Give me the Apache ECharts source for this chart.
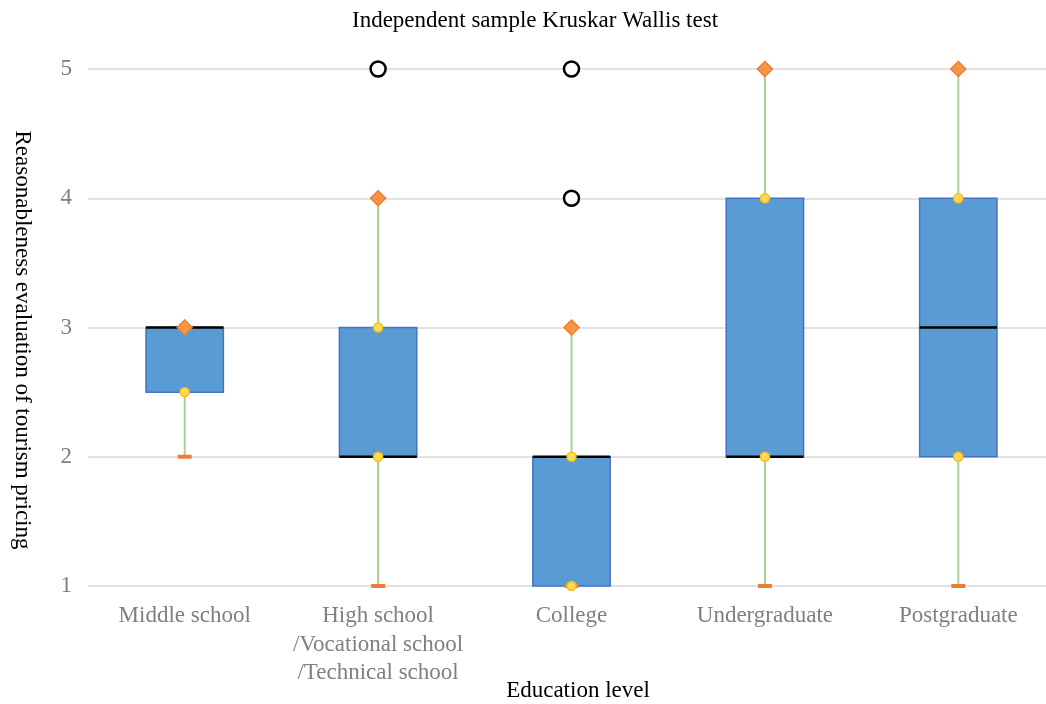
<!DOCTYPE html>
<html>
<head>
<meta charset="utf-8">
<script src="https://cdn.jsdelivr.net/npm/echarts@6/dist/echarts.min.js"></script>
<style>
html,body{margin:0;padding:0;background:#fff;}
#chart{width:1046px;height:704px;}
</style>
</head>
<body>
<div id="chart"></div>
<script>
const categories = ['Middle school', 'High school\n/Vocational school\n/Technical school', 'College', 'Undergraduate', 'Postgraduate'];
const minVals = [2, 1, 1, 1, 1];
const q1Vals = [2.5, 2, 1, 2, 2];
const medianVals = [3, 2, 2, 2, 3];
const q3Vals = [3, 3, 2, 4, 4];
const maxVals = [3, 4, 3, 5, 5];
const outliers = [[1, 5], [2, 4], [2, 5]];
const yTicks = [1, 2, 3, 4, 5];

const FONT = "'Times New Roman', 'Liberation Serif', serif";
const FS = 23;
const boxData = categories.map((c, i) => [i, minVals[i], q1Vals[i], medianVals[i], q3Vals[i], maxVals[i]]);

const chart = echarts.init(document.getElementById('chart'), null, {renderer: 'canvas'});
chart.setOption({
  animation: false,
  backgroundColor: '#fff',
  title: {
    text: 'Independent sample Kruskar Wallis test',
    left: 530, top: 4, textAlign: 'center',
    textStyle: {fontFamily: FONT, fontSize: FS, fontWeight: 'normal', color: '#000'}
  },
  graphic: [
    {type: 'text', x: 22, y: 340, rotation: -Math.PI / 2,
     style: {text: 'Reasonableness evaluation of tourism pricing', font: FS + 'px ' + FONT,
       fill: '#000', align: 'center', verticalAlign: 'middle'}},
    {type: 'text', x: 578, y: 691,
     style: {text: 'Education level', font: FS + 'px ' + FONT,
       fill: '#000', align: 'center', verticalAlign: 'middle'}}
  ],
  grid: {left: 88, top: 69, width: 967, bottom: 118, containLabel: false, outerBoundsMode: 'none'},
  xAxis: {
    type: 'category',
    data: categories,
    axisLine: {show: false},
    axisTick: {show: false},
    axisLabel: {fontFamily: FONT, fontSize: FS, color: '#7f7f7f', lineHeight: 28.5, margin: 16, interval: 0}
  },
  yAxis: {
    type: 'value',
    min: 1, max: 5, interval: 1,
    axisLine: {show: false},
    axisTick: {show: false},
    axisLabel: {fontFamily: FONT, fontSize: FS, color: '#7f7f7f', margin: 16,
      formatter: v => yTicks.includes(v) ? String(v) : ''},
    splitLine: {lineStyle: {color: '#d9d9d9', width: 1.5}}
  },
  series: [
    {
      type: 'custom',
      z: 2,
      data: boxData,
      encode: {x: 0, y: [1, 2, 3, 4, 5]},
      renderItem: function (params, api) {
        const i = api.value(0);
        const pMin = api.coord([i, api.value(1)]);
        const pQ1 = api.coord([i, api.value(2)]);
        const pMed = api.coord([i, api.value(3)]);
        const pQ3 = api.coord([i, api.value(4)]);
        const pMax = api.coord([i, api.value(5)]);
        const band = api.size([1, 0])[0];
        const w = band * 0.4;
        const x = pQ1[0];
        return {
          type: 'group',
          children: [
            {type: 'line', shape: {x1: x, y1: pMin[1], x2: x, y2: pMax[1]},
             style: {stroke: '#a9d18e', lineWidth: 2}},
            {type: 'rect', shape: {x: x - w / 2, y: pQ3[1], width: w, height: pQ1[1] - pQ3[1]},
             style: {fill: '#5b9bd5', stroke: '#4472c4', lineWidth: 1.5}},
            {type: 'line', shape: {x1: x - w / 2, y1: pMed[1], x2: x + w / 2, y2: pMed[1]},
             style: {stroke: '#000', lineWidth: 2.5}}
          ]
        };
      }
    },
    {
      type: 'scatter', z: 3,
      symbol: 'rect', symbolSize: [14, 4],
      itemStyle: {color: '#ed7d31', opacity: 1},
      data: minVals.map((v, i) => [i, v])
    },
    {
      type: 'scatter', z: 3,
      symbol: 'circle', symbolSize: 9,
      itemStyle: {color: '#ffd966', borderColor: '#ffc000', borderWidth: 1.5, opacity: 1},
      data: q1Vals.map((v, i) => [i, v]).concat(q3Vals.map((v, i) => [i, v]))
    },
    {
      type: 'scatter', z: 4,
      symbol: 'diamond', symbolSize: [15, 15],
      itemStyle: {color: '#f79646', borderColor: '#ed7d31', borderWidth: 1.5, opacity: 1},
      data: maxVals.map((v, i) => [i, v])
    },
    {
      type: 'scatter', z: 4,
      symbol: 'circle', symbolSize: 15,
      itemStyle: {color: '#fff', borderColor: '#000', borderWidth: 2.5, opacity: 1},
      data: outliers
    }
  ]
});
</script>
</body>
</html>
